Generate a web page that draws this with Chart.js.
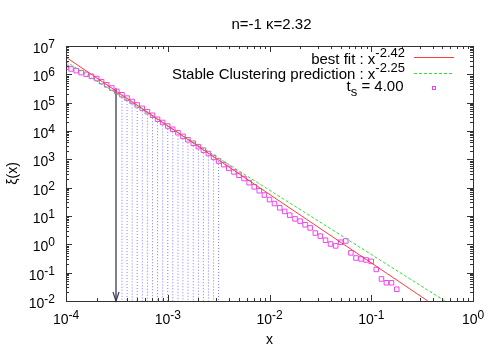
<!DOCTYPE html>
<html>
<head>
<meta charset="utf-8">
<script src="https://cdn.jsdelivr.net/npm/chart.js@4/dist/chart.umd.min.js"></script>
<style>
  html, body { margin: 0; background: #fff; }
  #wrap { width: 500px; height: 350px; }
</style>
</head>
<body>
<div id="wrap"><canvas id="chart"></canvas></div>
<script>
const chartTitle = 'n=-1 κ=2.32';
const xLabel = 'x';
const yLabel = 'ξ(x)';

// decade ticks (exponents of 10)
const xTickExp = [-4, -3, -2, -1, 0];
const yTickExp = [-2, -1, 0, 1, 2, 3, 4, 5, 6, 7];

// measured points, t_s = 4.00
const pointX = [
  1.00e-4, 1.12e-4, 1.26e-4, 1.41e-4, 1.58e-4, 1.78e-4, 2.00e-4, 2.24e-4, 2.51e-4, 2.82e-4,
  3.16e-4, 3.55e-4, 3.98e-4, 4.47e-4, 5.01e-4, 5.62e-4, 6.31e-4, 7.08e-4, 7.94e-4, 8.91e-4,
  1.00e-3, 1.12e-3, 1.26e-3, 1.41e-3, 1.58e-3, 1.78e-3, 2.00e-3, 2.24e-3, 2.51e-3, 2.82e-3,
  3.16e-3, 3.55e-3, 3.98e-3, 4.47e-3, 5.01e-3, 5.62e-3, 6.31e-3, 7.08e-3, 7.94e-3, 8.91e-3,
  1.00e-2, 1.12e-2, 1.26e-2, 1.41e-2, 1.58e-2, 1.78e-2, 2.00e-2, 2.24e-2, 2.51e-2, 2.82e-2,
  3.16e-2, 3.55e-2, 3.98e-2, 4.47e-2, 5.01e-2, 5.62e-2, 6.31e-2, 7.08e-2, 7.94e-2, 8.91e-2,
  0.100, 0.112, 0.126, 0.141, 0.158, 0.178
];
const pointY = [
  1.78e6, 1.55e6, 1.35e6, 1.15e6, 1.0e6, 8.5e5, 7.1e5, 5.5e5, 4.27e5, 3.3e5,
  2.5e5, 1.9e5, 1.45e5, 1.1e5, 8.3e4, 6.3e4, 4.8e4, 3.6e4, 2.6e4, 2.0e4,
  1.5e4, 1.15e4, 8.7e3, 6.5e3, 4.9e3, 3.7e3, 2.8e3, 2.1e3, 1.6e3, 1.17e3,
  870, 650, 480, 360, 275, 210, 150, 107, 78, 55,
  38, 27.5, 19.5, 14.5, 10.7, 7.9, 6.6, 4.9, 3.8, 2.5,
  1.95, 1.4, 1.03, 0.88, 1.19, 1.32, 0.5, 0.33, 0.305, 0.28,
  0.25, 0.13, 0.06, 0.044, 0.044, 0.026
];

// power-law lines (end points)
const fitX = [1e-4, 0.36];
const fitY = [4.0e6, 1e-2];
const scX = [1e-4, 0.53];
const scY = [2.8e6, 1e-2];

// dotted drops under the points in this x range, and the arrow
const dropRange = [3.4e-4, 3.2e-3];
const arrowX = 3.1e-4;
const arrowTop = 3.2e5;

const legendRows = [
  {main: 'best fit : x', sup: '-2.42'},
  {main: 'Stable Clustering prediction : x', sup: '-2.25'},
  {main: 't', sub: 's', rest: ' = 4.00'}
];

const FIT_COLOR = '#ff3b3b';
const SC_COLOR = '#33dd33';
const SC_DASH = [3, 2];
const PT_COLOR = '#ee44ee';
const ARROW_COLOR = '#3a3a5a';
const FONT = '"Liberation Sans", Arial, sans-serif';

const xMin = Math.pow(10, xTickExp[0]), xMax = Math.pow(10, xTickExp[xTickExp.length - 1]);
const yMin = Math.pow(10, yTickExp[0]), yMax = Math.pow(10, yTickExp[yTickExp.length - 1]);

const toPts = (xs, ys) => xs.map((x, i) => ({x, y: ys[i]}));

const dropSets = toPts(pointX, pointY)
  .filter(p => p.x >= dropRange[0] && p.x <= dropRange[1])
  .map(p => ({
    data: [p, {x: p.x, y: yMin}],
    borderColor: 'rgba(80,80,255,0.75)',
    borderWidth: 1,
    borderDash: [1, 2],
    pointRadius: 0,
  }));

function powLabel(ctx, exp, x, y, align) {
  ctx.font = '14px ' + FONT;
  const wb = ctx.measureText('10').width;
  ctx.font = '12px ' + FONT;
  const we = ctx.measureText(String(exp)).width;
  let left = x;
  if (align === 'right') left = x - wb - we;
  if (align === 'center') left = x - (wb + we) / 2;
  ctx.textAlign = 'left';
  ctx.textBaseline = 'alphabetic';
  ctx.font = '14px ' + FONT;
  ctx.fillText('10', left, y);
  ctx.font = '12px ' + FONT;
  ctx.fillText(String(exp), left + wb, y - 5);
}

const decor = {
  id: 'decor',
  afterDatasetsDraw(chart) {
    const {ctx, chartArea: a, scales: {x: sx, y: sy}} = chart;
    ctx.save();
    ctx.fillStyle = '#000';

    // frame
    ctx.strokeStyle = '#333';
    ctx.lineWidth = 1;
    ctx.strokeRect(Math.round(a.left) + 0.5, Math.round(a.top) + 0.5,
      Math.round(a.right - a.left), Math.round(a.bottom - a.top));

    // ticks, mirrored on all sides
    ctx.beginPath();
    xTickExp.forEach((e, k) => {
      for (let m = 1; m <= 9; m++) {
        if (m > 1 && k === xTickExp.length - 1) break;
        const px = Math.round(sx.getPixelForValue(m * Math.pow(10, e))) + 0.5;
        const len = m === 1 ? 6 : 3;
        ctx.moveTo(px, a.bottom); ctx.lineTo(px, a.bottom - len);
        ctx.moveTo(px, a.top); ctx.lineTo(px, a.top + len);
      }
    });
    yTickExp.forEach((e, k) => {
      for (let m = 1; m <= 9; m++) {
        if (m > 1 && k === yTickExp.length - 1) break;
        const py = Math.round(sy.getPixelForValue(m * Math.pow(10, e))) + 0.5;
        const len = m === 1 ? 6 : 3;
        ctx.moveTo(a.left, py); ctx.lineTo(a.left + len, py);
        ctx.moveTo(a.right, py); ctx.lineTo(a.right - len, py);
      }
    });
    ctx.stroke();

    // tick labels
    xTickExp.forEach(e => powLabel(ctx, e, sx.getPixelForValue(Math.pow(10, e)), a.bottom + 23, 'center'));
    yTickExp.forEach(e => powLabel(ctx, e, 55, sy.getPixelForValue(Math.pow(10, e)) + 7, 'right'));

    // arrow head
    const ax = sx.getPixelForValue(arrowX);
    ctx.strokeStyle = ARROW_COLOR;
    ctx.lineWidth = 1.2;
    ctx.beginPath();
    ctx.moveTo(ax - 3, a.bottom - 9);
    ctx.lineTo(ax, a.bottom);
    ctx.lineTo(ax + 3, a.bottom - 9);
    ctx.stroke();

    // titles
    ctx.textAlign = 'center';
    ctx.textBaseline = 'alphabetic';
    ctx.font = '15px ' + FONT;
    ctx.fillText(chartTitle, 271.5, 29);
    ctx.font = '14px ' + FONT;
    ctx.fillText(xLabel, (a.left + a.right) / 2, 344);
    ctx.save();
    ctx.translate(17, (a.top + a.bottom) / 2);
    ctx.rotate(-Math.PI / 2);
    ctx.fillText(yLabel, 0, 0);
    ctx.restore();

    // legend
    const right = 405;
    const bases = [64, 79.3, 91];
    const mainFont = '15px ' + FONT, smallFont = '13px ' + FONT;
    legendRows.forEach((r, i) => {
      const b = bases[i];
      ctx.textAlign = 'left';
      if (r.sup) {
        ctx.font = smallFont;
        const ws = ctx.measureText(r.sup).width;
        ctx.font = mainFont;
        const wm = ctx.measureText(r.main).width;
        ctx.fillText(r.main, right - ws - wm, b);
        ctx.font = smallFont;
        ctx.fillText(r.sup, right - ws, b - 7.5);
      } else {
        ctx.font = mainFont;
        const wr = ctx.measureText(r.rest).width;
        const wm = ctx.measureText(r.main).width;
        ctx.font = smallFont;
        const ws = ctx.measureText(r.sub).width;
        const x0 = right - 1.5 - wr - ws - wm;
        ctx.font = mainFont;
        ctx.fillText(r.main, x0, b);
        ctx.fillText(r.rest, x0 + wm + ws, b);
        ctx.font = smallFont;
        ctx.fillText(r.sub, x0 + wm, b + 4.5);
      }
    });
    ctx.lineWidth = 1;
    ctx.strokeStyle = FIT_COLOR;
    ctx.beginPath(); ctx.moveTo(414, 57.5); ctx.lineTo(454, 57.5); ctx.stroke();
    ctx.strokeStyle = SC_COLOR;
    ctx.setLineDash(SC_DASH);
    ctx.beginPath(); ctx.moveTo(414, 73.5); ctx.lineTo(454, 73.5); ctx.stroke();
    ctx.setLineDash([]);
    ctx.strokeStyle = PT_COLOR;
    ctx.strokeRect(432.5, 86.5, 3, 3);

    ctx.restore();
  }
};

new Chart(document.getElementById('chart'), {
  type: 'line',
  data: {
    datasets: [
      {
        label: 'best fit',
        data: toPts(fitX, fitY),
        borderColor: FIT_COLOR,
        borderWidth: 1,
        pointRadius: 0,
      },
      {
        label: 'Stable Clustering prediction',
        data: toPts(scX, scY),
        borderColor: SC_COLOR,
        borderWidth: 1,
        borderDash: SC_DASH,
        pointRadius: 0,
      },
      {
        label: 't_s = 4.00',
        data: toPts(pointX, pointY),
        showLine: false,
        pointStyle: 'rect',
        pointRadius: 3.2,
        pointBorderWidth: 1,
        borderColor: PT_COLOR,
        backgroundColor: 'rgba(0,0,0,0)',
      },
      ...dropSets,
      {
        label: 'arrow',
        data: [{x: arrowX, y: arrowTop}, {x: arrowX, y: yMin}],
        borderColor: ARROW_COLOR,
        borderWidth: 1.3,
        pointRadius: 0,
      },
    ]
  },
  options: {
    animation: false,
    responsive: true,
    maintainAspectRatio: false,
    events: [],
    layout: {padding: {left: 66, right: 27, top: 46, bottom: 49}},
    scales: {
      x: {type: 'logarithmic', min: xMin, max: xMax, display: false},
      y: {type: 'logarithmic', min: yMin, max: yMax, display: false},
    },
    plugins: {
      legend: {display: false},
      tooltip: {enabled: false},
    },
  },
  plugins: [decor],
});
</script>
</body>
</html>
